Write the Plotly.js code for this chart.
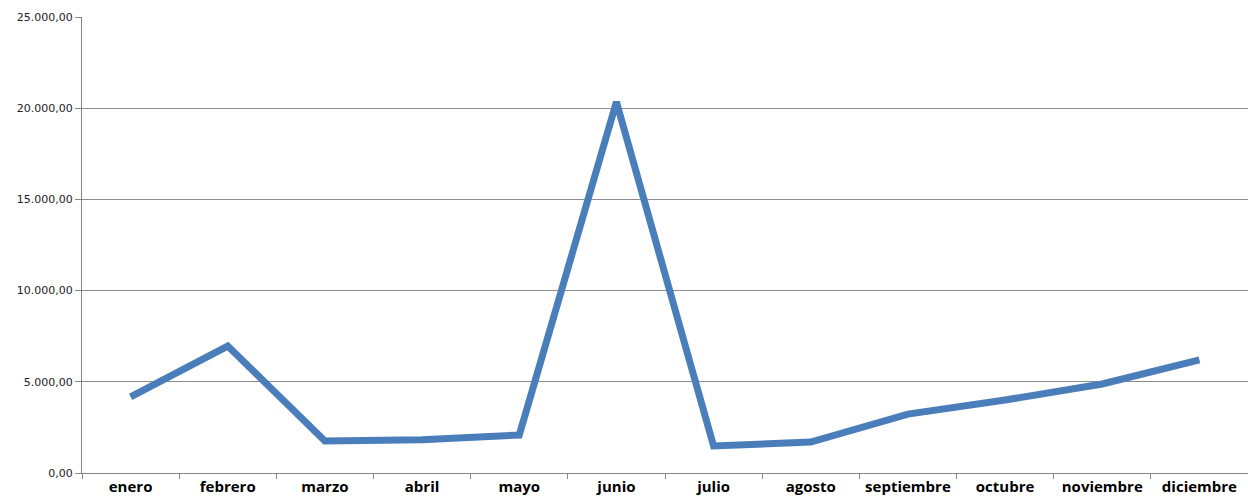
<!DOCTYPE html>
<html><head><meta charset="utf-8">
<script src="https://cdn.plot.ly/plotly-3.0.1.min.js"></script>
<style>html,body{margin:0;padding:0;background:#fff}#chart{width:1248px;height:496px}</style>
</head><body><div id="chart"></div>
<script>
const months = ['enero','febrero','marzo','abril','mayo','junio','julio','agosto','septiembre','octubre','noviembre','diciembre'];
const values = [4170, 6960, 1750, 1820, 2080, 20340, 1480, 1700, 3230, 4000, 4880, 6200];
const yTicks = [0, 5000, 10000, 15000, 20000, 25000];

Plotly.newPlot('chart', [{
  type: 'scatter', mode: 'lines', x: months, y: values,
  line: {color: '#4A7EBB', width: 7}, hoverinfo: 'skip'
}], {
  width: 1248, height: 496,
  margin: {l: 82, r: 0, t: 17, b: 23},
  separators: ',.',
  showlegend: false,
  paper_bgcolor: '#fff', plot_bgcolor: '#fff',
  xaxis: {
    type: 'category', tickson: 'boundaries', ticks: 'outside', ticklen: 5, tickcolor: '#868686',
    showgrid: false, showline: true, linecolor: '#868686', linewidth: 1,
    tickfont: {family: 'Open Sans', size: 15, color: '#000', weight: 'bold'},
    range: [-0.5, 11.5], fixedrange: true
  },
  yaxis: {
    range: [0, 25000], tickvals: yTicks, tickformat: ',.2f',
    ticks: 'outside', ticklen: 6, tickcolor: '#868686',
    showgrid: true, gridcolor: '#8c8c8c', gridwidth: 1,
    showline: true, linecolor: '#868686', linewidth: 1, zeroline: false,
    tickfont: {family: 'DejaVu Sans', size: 11, color: '#222'}
  }
}, {staticPlot: true});
</script></body></html>
